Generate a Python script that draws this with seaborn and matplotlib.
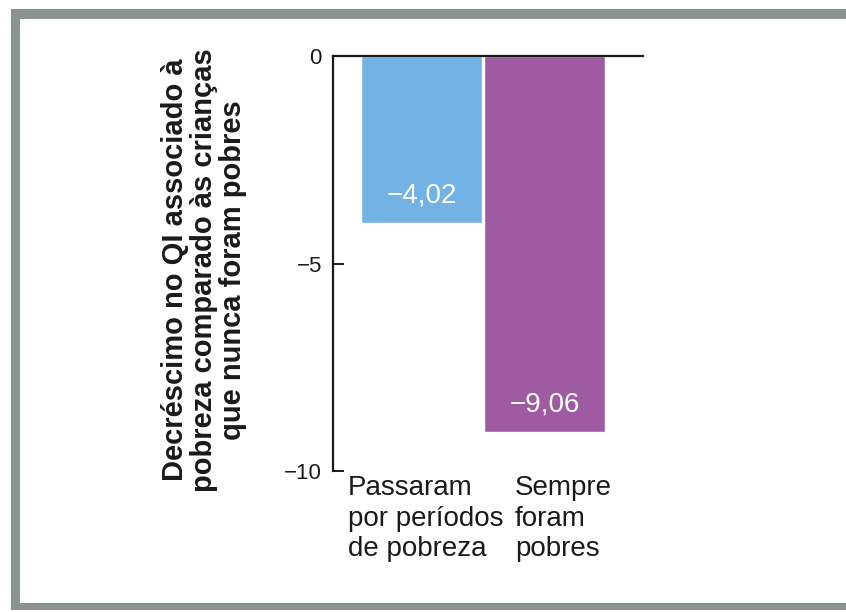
import matplotlib
matplotlib.use("Agg")
import matplotlib.pyplot as plt
from matplotlib.patches import Rectangle
import seaborn as sns

# Data
categories = ["Passaram\npor períodos\nde pobreza", "Sempre\nforam\npobres"]
values = [-4.02, -9.06]
bar_colors = ["#72b2e5", "#9e5ba1"]
y_ticks = [0, -5, -10]
y_tick_labels = ["0", "\u22125", "\u221210"]
y_title = "Decréscimo no QI associado à\npobreza comparado às crianças\nque nunca foram pobres"

sns.set_theme(style="white")
plt.rcParams["font.family"] = ["Liberation Sans", "DejaVu Sans"]

W, H = 846, 612
fig = plt.figure(figsize=(W / 100, H / 100), dpi=100)
fig.patch.set_facecolor("white")

# grey frame (top, left and bottom bands)
frame_col = "#8a938f"
def px_rect(x0, y0, x1, y1):
    return Rectangle((x0 / W, 1 - y1 / H), (x1 - x0) / W, (y1 - y0) / H,
                     transform=fig.transFigure, color=frame_col, lw=0, zorder=0)
fig.patches.extend([
    px_rect(11, 9, W, 19),
    px_rect(11, 9, 20, 610),
    px_rect(11, 603, W, 610),
])

ax = fig.add_axes([333 / W, 1 - 471 / H, (643 - 333) / W, (471 - 56) / H])
ax.set_facecolor("none")

sns.barplot(x=categories, y=values, hue=categories, palette=bar_colors,
            width=0.99, saturation=1, legend=False, ax=ax)

ax.set_ylim(-10, 0)
ax.set_xlim(-0.72, 1.80)

# spines: vertical axis on the left, zero line on top
for side in ("right", "bottom"):
    ax.spines[side].set_visible(False)
for side in ("left", "top"):
    ax.spines[side].set_visible(True)
    ax.spines[side].set_color("#1a1a1a")
    ax.spines[side].set_linewidth(1.6)

ax.set_yticks(y_ticks)
ax.set_yticklabels(y_tick_labels)
ax.tick_params(axis="y", direction="in", length=8, width=1.4, color="#1a1a1a",
               pad=8, labelsize=16, labelcolor="#1a1a1a", left=True)
ax.set_xticks([])
ax.set_xlabel("")
ax.set_ylabel("")

# value labels inside the bars
for i, v in enumerate(values):
    ax.annotate(f"{v:.2f}".replace("-", "\u2212").replace(".", ","),
                xy=(i, v), xytext=(0, 14.5), textcoords="offset points",
                ha="center", va="baseline", color="white", fontsize=20)

# category labels beneath the axis, left aligned
label_offsets_px = [-12, 32]
for i, lab in enumerate(categories):
    ax.annotate(lab, xy=(i - 0.5, -10), xytext=(label_offsets_px[i] * 0.72, -3),
                textcoords="offset points", ha="left", va="top",
                fontsize=20, color="#1a1a1a", linespacing=1.22,
                annotation_clip=False)

fig.text(204 / W, 1 - 270 / H, y_title, rotation=90, ha="center", va="center",
         multialignment="center", fontsize=21, fontweight="bold",
         color="#1a1a1a", linespacing=1.05)

fig.savefig("out.png", dpi=100)
